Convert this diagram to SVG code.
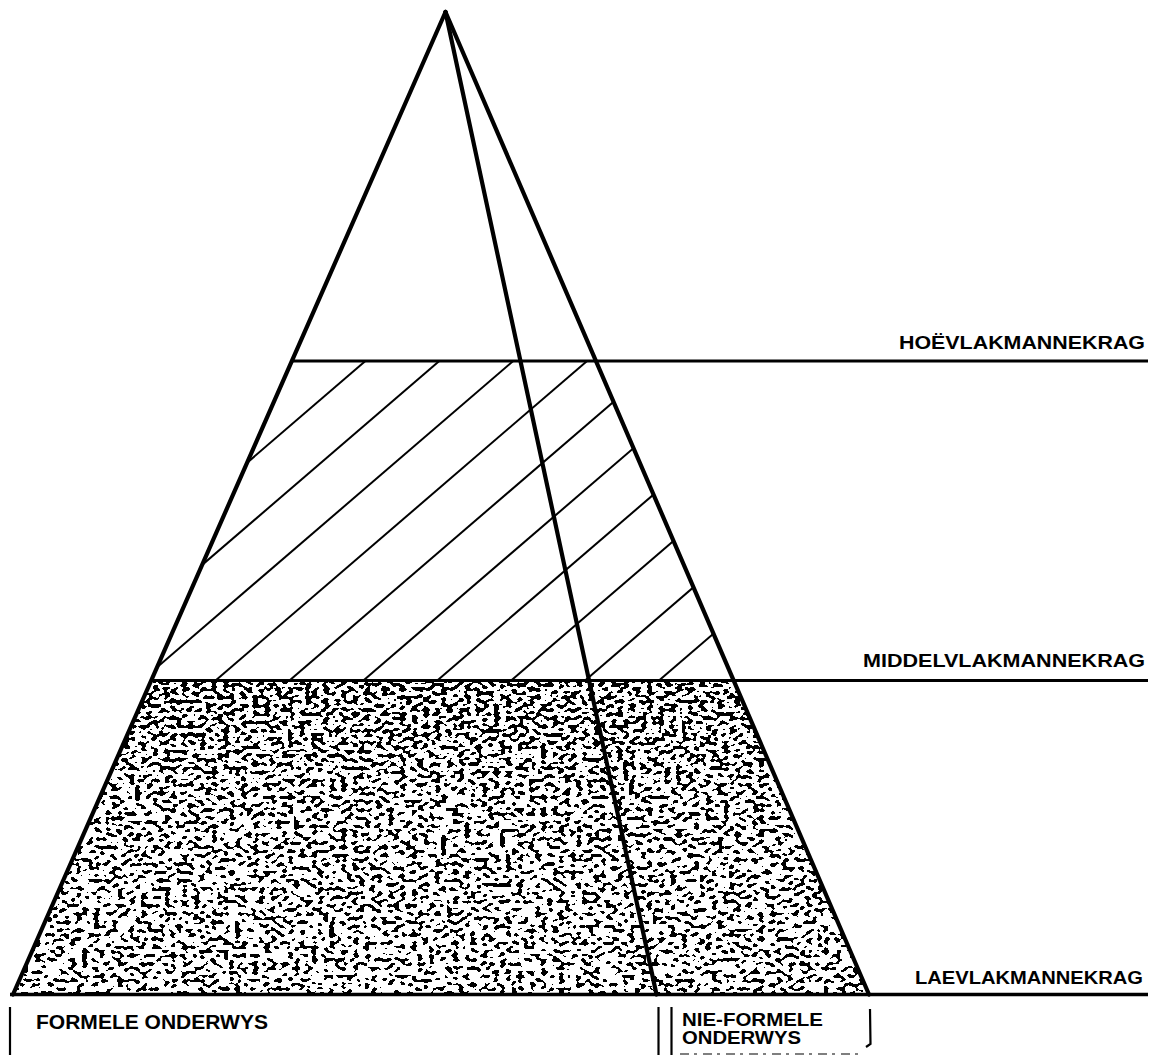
<svg xmlns="http://www.w3.org/2000/svg" width="1149" height="1055" viewBox="0 0 1149 1055">
<style>
 .edge{stroke:#000;stroke-width:4.2;fill:none;stroke-linecap:round;stroke-linejoin:round}
 .level{stroke:#000;stroke-width:3;fill:none}
 .hatch{stroke:#000;stroke-width:2;fill:none}
 .tick{stroke:#000;stroke-width:2.2;fill:none}
 .lbl{font-family:"Liberation Sans",Arial,Helvetica,sans-serif;font-weight:bold;font-size:18.5px;fill:#000}
</style>
<defs>
 <clipPath id="midClip"><polygon points="291.9,361 595.9,361 733.6,680.5 151.2,680.5"/></clipPath>
 <clipPath id="lowClip"><polygon points="151.2,680.5 733.6,680.5 869,994.5 13,994.5"/></clipPath>
 <linearGradient id="dens" gradientUnits="userSpaceOnUse" x1="0" y1="680" x2="0" y2="995">
  <stop offset="0" stop-color="#e2e2e2"/>
  <stop offset="0.18" stop-color="#d2d2d2"/>
  <stop offset="0.4" stop-color="#b8b8b8"/>
  <stop offset="1" stop-color="#acacac"/>
 </linearGradient>
 <filter id="stip" filterUnits="userSpaceOnUse" x="0" y="670" width="900" height="335" color-interpolation-filters="sRGB">
  <feTurbulence type="fractalNoise" baseFrequency="0.17 0.24" numOctaves="1" seed="11" result="noise"/>
  <feColorMatrix in="noise" type="matrix" values="0 0 0 0 0  0 0 0 0 0  0 0 0 0 0  1 0 0 0 0" result="na"/>
  <feColorMatrix in="SourceGraphic" type="matrix" values="0 0 0 0 0  0 0 0 0 0  0 0 0 0 0  1 0 0 0 0" result="ga"/>
  <feComposite in="na" in2="ga" operator="arithmetic" k1="0" k2="5" k3="1" k4="-3" result="sum"/>
  <feComponentTransfer in="sum"><feFuncA type="discrete" tableValues="0 1"/></feComponentTransfer>
 </filter>
</defs>
<rect x="0" y="0" width="1149" height="1055" fill="#fff"/>

<g id="stipple">
 <rect x="0" y="680" width="900" height="316" fill="url(#dens)" filter="url(#stip)" clip-path="url(#lowClip)"/>
</g>

<g id="hatching" clip-path="url(#midClip)">
 <line class="hatch" x1="-6.7" y1="681" x2="365.4" y2="361"/>
 <line class="hatch" x1="67.2" y1="681" x2="439.3" y2="361"/>
 <line class="hatch" x1="141.1" y1="681" x2="513.2" y2="361"/>
 <line class="hatch" x1="215" y1="681" x2="587.1" y2="361"/>
 <line class="hatch" x1="288.9" y1="681" x2="661" y2="361"/>
 <line class="hatch" x1="362.8" y1="681" x2="734.9" y2="361"/>
 <line class="hatch" x1="436.7" y1="681" x2="808.8" y2="361"/>
 <line class="hatch" x1="510.6" y1="681" x2="882.7" y2="361"/>
 <line class="hatch" x1="584.5" y1="681" x2="956.6" y2="361"/>
 <line class="hatch" x1="658.4" y1="681" x2="1030.5" y2="361"/>
</g>

<g id="levels">
 <line class="level" x1="291.9" y1="361" x2="1148" y2="361"/>
 <line class="level" x1="151.2" y1="680.5" x2="1148" y2="680.5"/>
 <line class="level" x1="10" y1="994.5" x2="1148" y2="994.5" style="stroke-width:3.5"/>
</g>

<g id="pyramid">
 <line class="edge" x1="445.5" y1="12" x2="13" y2="994.5"/>
 <line class="edge" x1="445.5" y1="12" x2="656.5" y2="994.5"/>
 <line class="edge" x1="445.5" y1="12" x2="869" y2="994.5"/>
</g>

<g id="level-labels">
 <text class="lbl" x="899" y="348.5" textLength="246" lengthAdjust="spacingAndGlyphs">HOËVLAKMANNEKRAG</text>
 <text class="lbl" x="863" y="667" textLength="282" lengthAdjust="spacingAndGlyphs">MIDDELVLAKMANNEKRAG</text>
 <text class="lbl" x="915" y="984" textLength="228" lengthAdjust="spacingAndGlyphs">LAEVLAKMANNEKRAG</text>
</g>

<g id="formal">
 <line class="tick" x1="10" y1="1007" x2="10" y2="1055"/>
 <text class="lbl" x="36" y="1028.5" textLength="232" lengthAdjust="spacingAndGlyphs" style="font-size:19.5px">FORMELE ONDERWYS</text>
</g>

<g id="nonformal">
 <line class="tick" x1="658.5" y1="1007" x2="658.5" y2="1055"/>
 <line class="tick" x1="671.5" y1="1007" x2="671.5" y2="1055"/>
 <path class="tick" d="M870,1009 L870.5,1044 L866,1047"/>
 <text class="lbl" x="682" y="1026" textLength="141" lengthAdjust="spacingAndGlyphs" style="font-size:17.5px">NIE-FORMELE</text>
 <text class="lbl" x="682" y="1044" textLength="119" lengthAdjust="spacingAndGlyphs" style="font-size:17.5px">ONDERWYS</text>
 <line x1="680" y1="1054" x2="862" y2="1054" stroke="#000" stroke-width="1.2" stroke-dasharray="9 5 3 6"/>
</g>
</svg>
